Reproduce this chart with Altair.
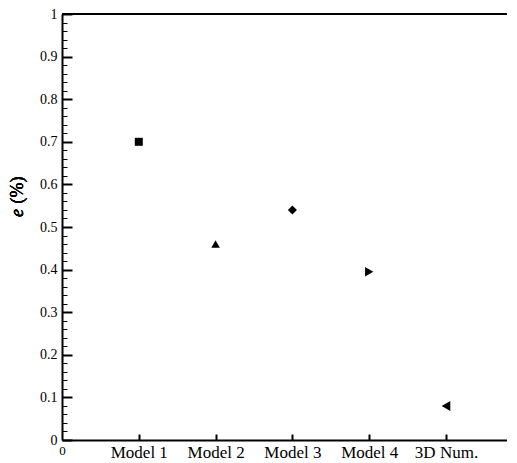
import altair as alt
import pandas as pd

# ---- data ----
models = ["Model 1", "Model 2", "Model 3", "Model 4", "3D Num."]
positions = [1, 2, 3, 4, 5]
errors = [0.70, 0.46, 0.54, 0.395, 0.08]
shapes = ["square", "triangle-up", "diamond", "triangle-right", "triangle-left"]
sizes = [64, 100, 170, 121, 121]

x_tick_labels = ["0"] + models
y_label_values = [0, 0.1, 0.2, 0.3, 0.4, 0.5, 0.6, 0.7, 0.8, 0.9, 1]
y_tick_values = [round(i * 0.02, 2) for i in range(51)]

df = pd.DataFrame({"model": models, "pos": positions, "e": errors})

W, H = 445, 426
FONT = "Liberation Serif"

x_scale = alt.Scale(domain=[0, W / 76.8], nice=False, zero=False)
y_scale = alt.Scale(domain=[0, 1], nice=False)

label_js = "[" + ",".join("'" + s + "'" for s in x_tick_labels) + "]"

points = alt.Chart(df).mark_point(filled=True, opacity=1, color="black").encode(
    x=alt.X("pos:Q", scale=x_scale, axis=alt.Axis(
        orient="bottom", values=[0, 1, 2, 3, 4, 5], title=None, grid=False,
        ticks=False, tickSize=0, domain=True, domainWidth=2, domainColor="black",
        labelExpr=label_js + "[datum.value]",
        labelFont=FONT, labelColor="black",
        labelFontSize={"condition": {"test": "datum.value == 0", "value": 13}, "value": 17},
        labelPadding=4, labelOverlap=False, labelFlush=False)),
    y=alt.Y("e:Q", scale=y_scale, axis=alt.Axis(
        orient="left", values=y_label_values, title=None, grid=False,
        ticks=False, tickSize=0, domain=True, domainWidth=2, domainColor="black",
        labelExpr="format(datum.value, '~g')",
        labelFont=FONT, labelColor="black", labelFontSize=14,
        labelPadding=5, labelOverlap=False, labelFlush=False)),
    shape=alt.Shape("model:N", scale=alt.Scale(domain=models, range=shapes), legend=None),
    size=alt.Size("model:N", scale=alt.Scale(domain=models, range=sizes), legend=None),
)

major_test = "abs(datum.value*10 - round(datum.value*10)) < 0.001"

ticks = alt.Chart(df).mark_point(opacity=0).encode(
    x=alt.X("pos:Q", scale=x_scale, axis=alt.Axis(
        orient="top", offset=-H, values=positions, title=None, grid=False,
        labels=False, domain=False, ticks=True, tickSize=6, tickWidth=2,
        tickColor="black")),
    y=alt.Y("e:Q", scale=y_scale, axis=alt.Axis(
        orient="right", offset=-W, values=y_tick_values, title=None, grid=False,
        labels=False, domain=False, ticks=True, tickColor="black",
        tickSize={"condition": {"test": major_test, "value": 10}, "value": 5},
        tickWidth={"condition": {"test": major_test, "value": 2}, "value": 1})),
)

top_line = alt.Chart(df).mark_rule(color="black", strokeWidth=2).encode(
    x=alt.value(0), x2=alt.value(W), y=alt.value(0)
)

title_e = alt.Chart(df).mark_text(
    text="e", angle=270, align="center", baseline="middle",
    font=FONT, fontSize=18, fontStyle="italic", color="black"
).encode(x=alt.value(-44), y=alt.value(199))

title_pct = alt.Chart(df).mark_text(
    text="(%)", angle=270, align="center", baseline="middle",
    font=FONT, fontSize=18, color="black"
).encode(x=alt.value(-44), y=alt.value(176))

chart = alt.layer(points, ticks, top_line, title_e, title_pct).resolve_axis(
    x="independent", y="independent"
).properties(
    width=W, height=H,
    padding={"left": 54, "top": 6, "right": 0, "bottom": 22},
    autosize=alt.AutoSizeParams(type="none"),
).configure_view(stroke=None).configure(background="white", font=FONT)

chart.save("out.html", embed_options={"renderer": "svg", "actions": False})
